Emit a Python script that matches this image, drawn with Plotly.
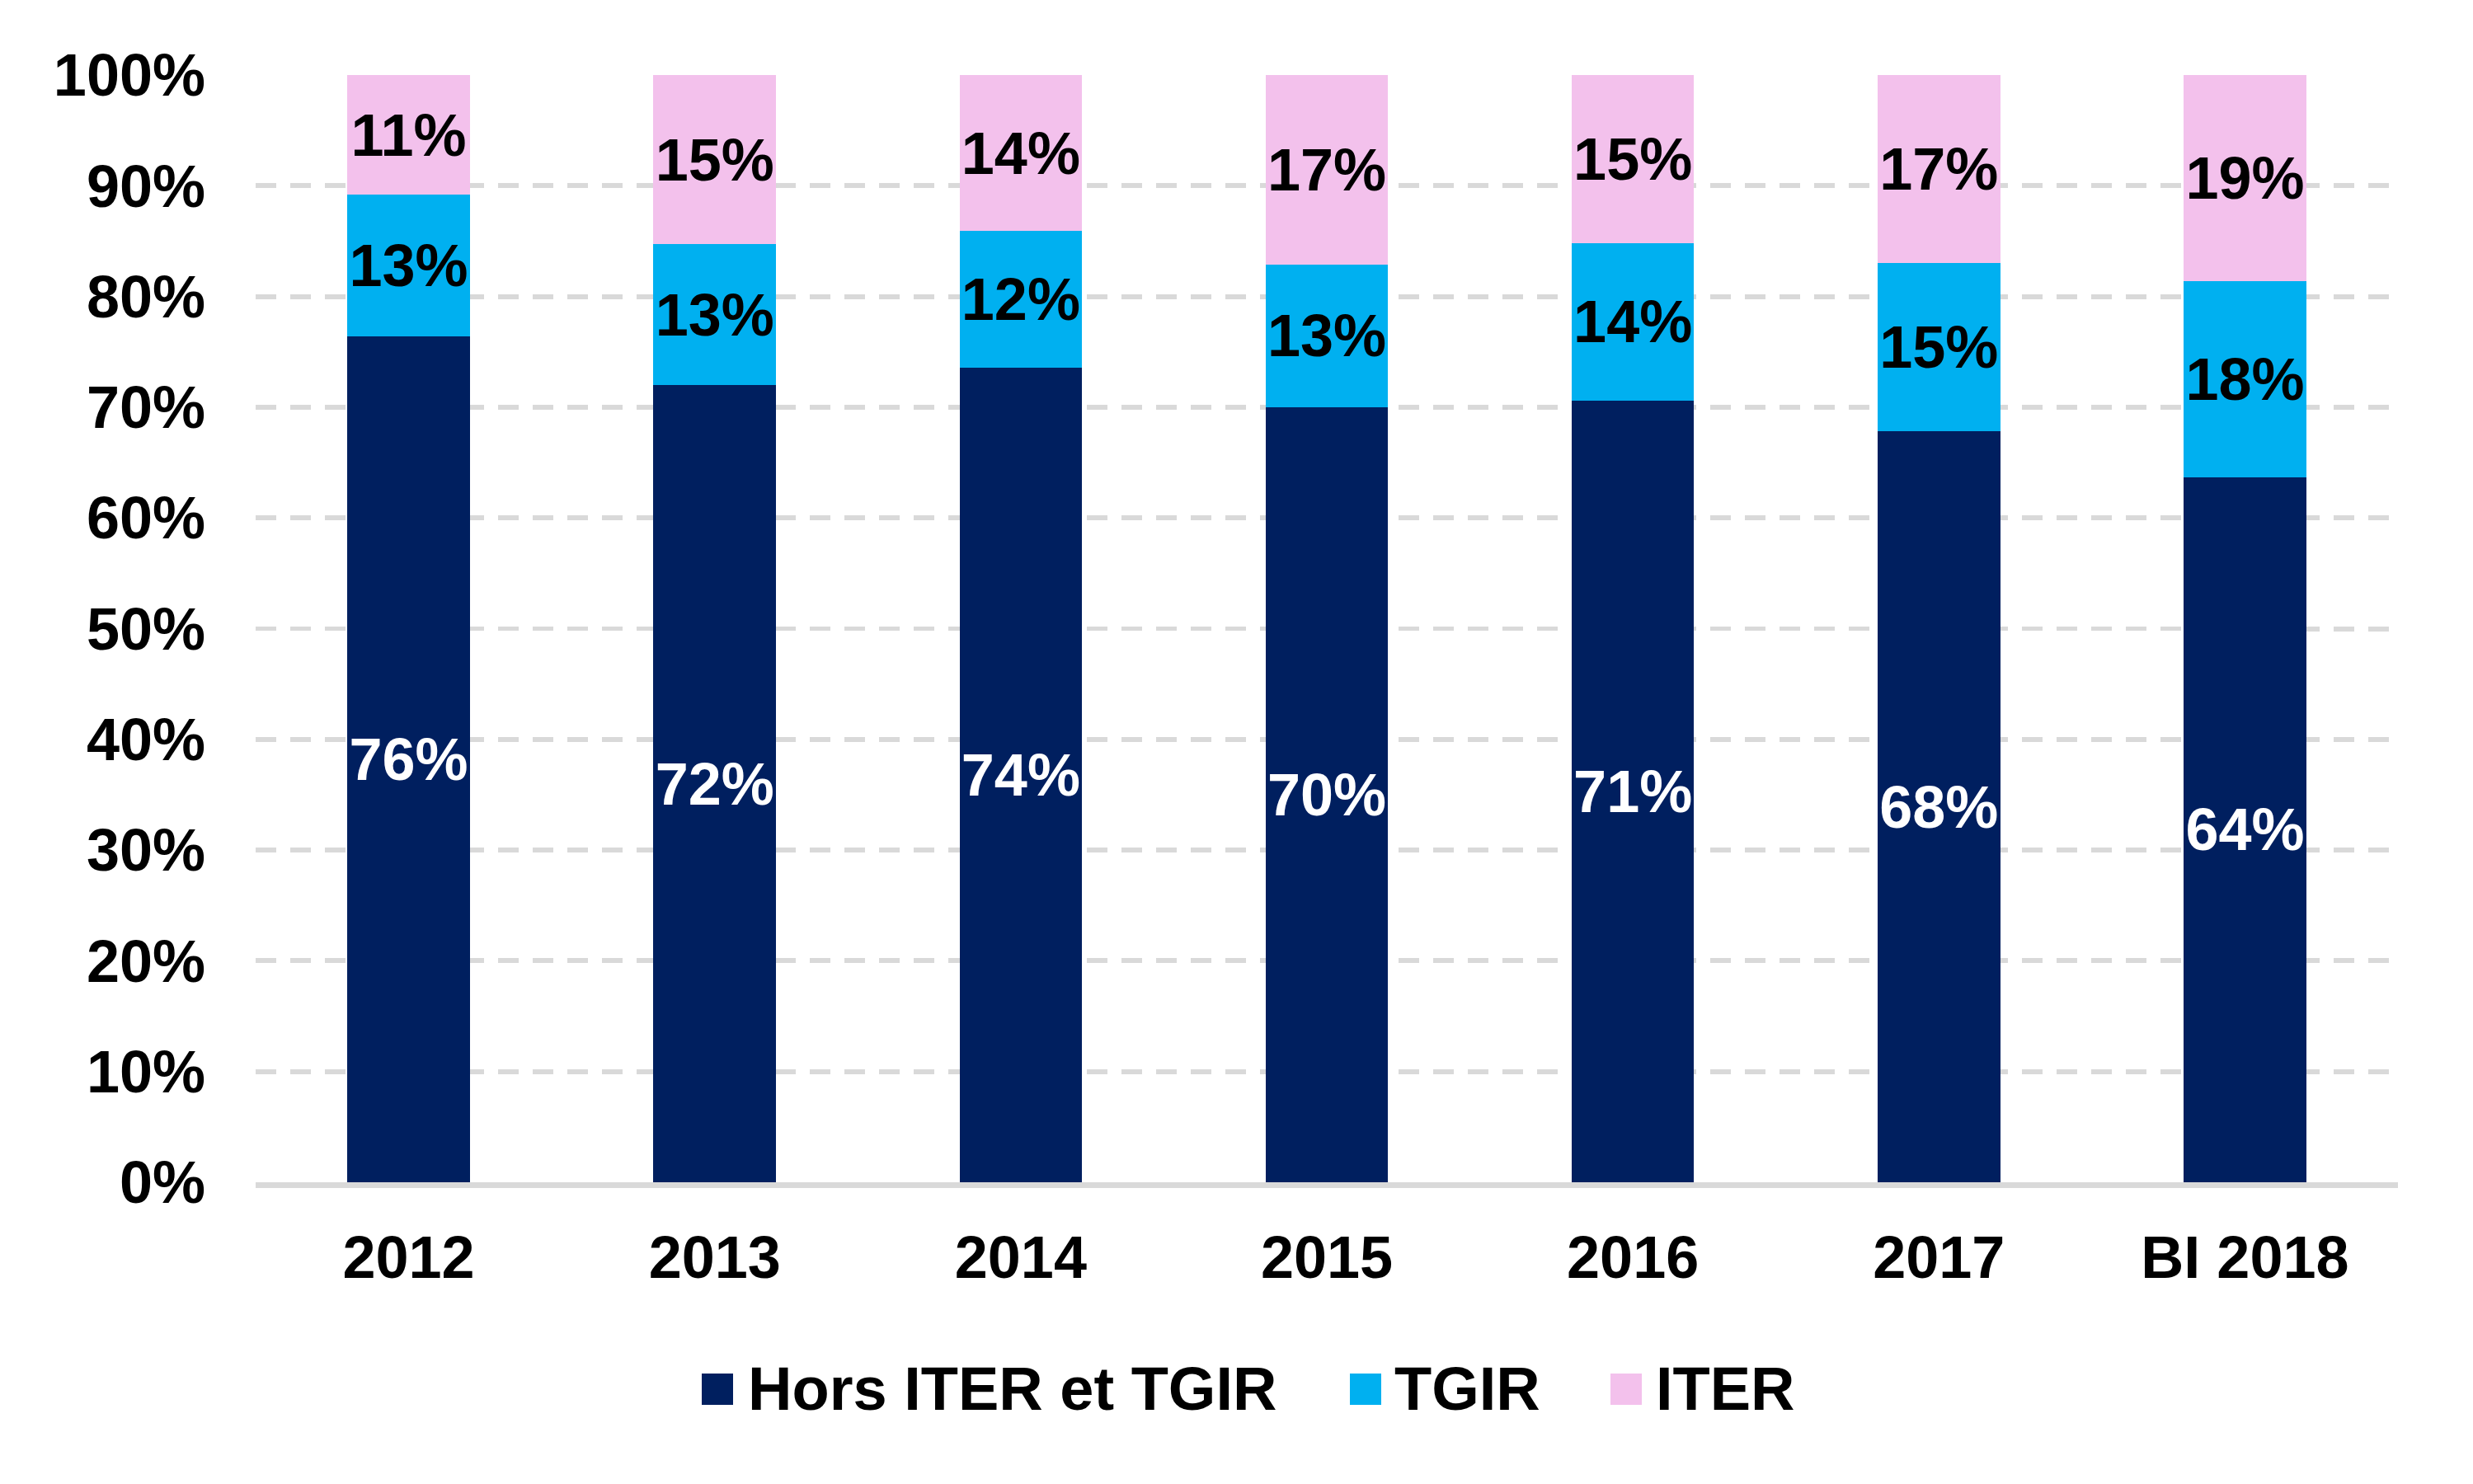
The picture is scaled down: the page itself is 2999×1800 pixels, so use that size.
import plotly.graph_objects as go

categories = ["2012", "2013", "2014", "2015", "2016", "2017", "BI 2018"]
hors_iter_tgir = [76.4, 72.0, 73.6, 70.0, 70.6, 67.8, 63.7]
tgir = [12.8, 12.7, 12.3, 12.9, 14.2, 15.2, 17.7]
iter_ = [10.8, 15.3, 14.1, 17.1, 15.2, 17.0, 18.6]
series_names = ["Hors ITER et TGIR", "TGIR", "ITER"]
y_ticks = [0, 10, 20, 30, 40, 50, 60, 70, 80, 90, 100]

colors = ["#001F5F", "#00B0F0", "#F3C1EC"]
text_colors = ["white", "black", "black"]
FONT = "Liberation Sans, Arial, sans-serif"

OFF = 8  # page body margin
W, H = 2999 - 2 * OFF, 1800 - 2 * OFF
# target plot area in screen pixels
PX_L, PX_R, PX_T, PX_B = 310, 2908, 91, 1434
L = PX_L - OFF
T = PX_T - OFF
R = W - (PX_R - OFF)
B = H - (PX_B - OFF)
plot_w = PX_R - PX_L
plot_h = PX_B - PX_T

fig = go.Figure()
for name, vals, c, tc in zip(series_names, [hors_iter_tgir, tgir, iter_], colors, text_colors):
    fig.add_trace(go.Bar(
        x=categories, y=vals, name=name,
        marker=dict(color=c, line=dict(width=0)),
        text=[f"{round(v)}%" for v in vals],
        textposition="inside", insidetextanchor="middle",
        constraintext="none", textangle=0,
        textfont=dict(family=FONT, size=72, color=tc, weight="bold"),
        showlegend=False, width=0.4,
    ))

# manual legend (large square markers), positions in screen pixels
def px_to_paper_x(px):
    return (px - PX_L) / plot_w

def px_to_paper_y(py):
    return (PX_B - py) / plot_h

legend_items = [(851, 909), (1637, 1693), (1953, 2010)]
shapes = []
annotations = []
for (sx, tx), name, c in zip(legend_items, series_names, colors):
    shapes.append(dict(type="rect", xref="paper", yref="paper",
                       x0=px_to_paper_x(sx), x1=px_to_paper_x(sx + 38),
                       y0=px_to_paper_y(1704), y1=px_to_paper_y(1666),
                       fillcolor=c, line=dict(width=0)))
    annotations.append(dict(xref="paper", yref="paper", x=px_to_paper_x(tx - 4),
                            y=px_to_paper_y(1684), xanchor="left", yanchor="middle",
                            text=name, showarrow=False,
                            font=dict(family=FONT, size=74, color="black", weight="bold")))

fig.update_layout(
    width=W, height=H,
    margin=dict(l=L, r=R, t=T, b=B, autoexpand=False),
    barmode="stack",
    plot_bgcolor="white", paper_bgcolor="white",
    font=dict(family=FONT, size=72, color="black", weight="bold"),
    shapes=shapes, annotations=annotations,
    xaxis=dict(showline=True, linecolor="#D9D9D9", linewidth=7,
               showgrid=False, ticks="", ticklabelstandoff=23,
               tickfont=dict(family=FONT, size=72, color="black", weight="bold")),
    yaxis=dict(range=[0, 100], tickvals=y_ticks, ticktext=[f"{v}%" for v in y_ticks],
               showgrid=True, gridcolor="#D9D9D9", gridwidth=6, griddash="25px,17px",
               zeroline=False, showline=False, ticks="", ticklabelstandoff=60,
               tickfont=dict(family=FONT, size=72, color="black", weight="bold")),
)

fig.write_html("out.html")
